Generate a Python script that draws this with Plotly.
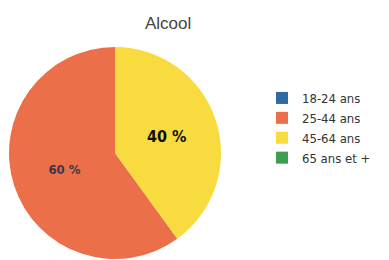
import plotly.graph_objects as go

categories = ["18-24 ans", "25-44 ans", "45-64 ans", "65 ans et +"]
values = [0, 60, 40, 0]
colors = ["#2F6AA3", "#EB7049", "#F8DB3E", "#3E9E4F"]
title_text = "Alcool"

total = sum(values)
labels_txt = [f"{v / total * 100:.0f} %" for v in values]

fig = go.Figure(go.Pie(
    labels=categories,
    values=values,
    text=labels_txt,
    textinfo="text",
    textposition="inside",
    sort=False,
    direction="counterclockwise",
    rotation=0,
    marker=dict(colors=colors, line=dict(width=0)),
    insidetextfont=dict(family="DejaVu Sans Condensed, Liberation Sans, Arial",
                        size=[13, 13, 16, 13],
                        color=["#333", "#3a3848", "#111", "#333"]),
    texttemplate="<b>%{text}</b>",
    domain=dict(x=[1/389, 213/389], y=[1-251/260, 1-39/260]),
    showlegend=True,
    hoverinfo="label+percent",
))

fig.update_layout(
    width=389, height=260,
    margin=dict(l=0, r=0, t=0, b=0),
    paper_bgcolor="white",
    plot_bgcolor="white",
    annotations=[dict(text=title_text, xref="paper", yref="paper",
                      x=160/389, xanchor="center", y=1-15/260, yanchor="middle",
                      showarrow=False,
                      font=dict(family="Liberation Sans, Arial", size=17, color="#444"))],
    legend=dict(x=254/389, xanchor="left", y=1-75/260, yanchor="top",
                font=dict(family="DejaVu Sans Condensed, Liberation Sans, Arial", size=13, color="#333"),
                itemwidth=30, tracegroupgap=2, bgcolor="rgba(0,0,0,0)"),
)

fig.write_html("out.html")
